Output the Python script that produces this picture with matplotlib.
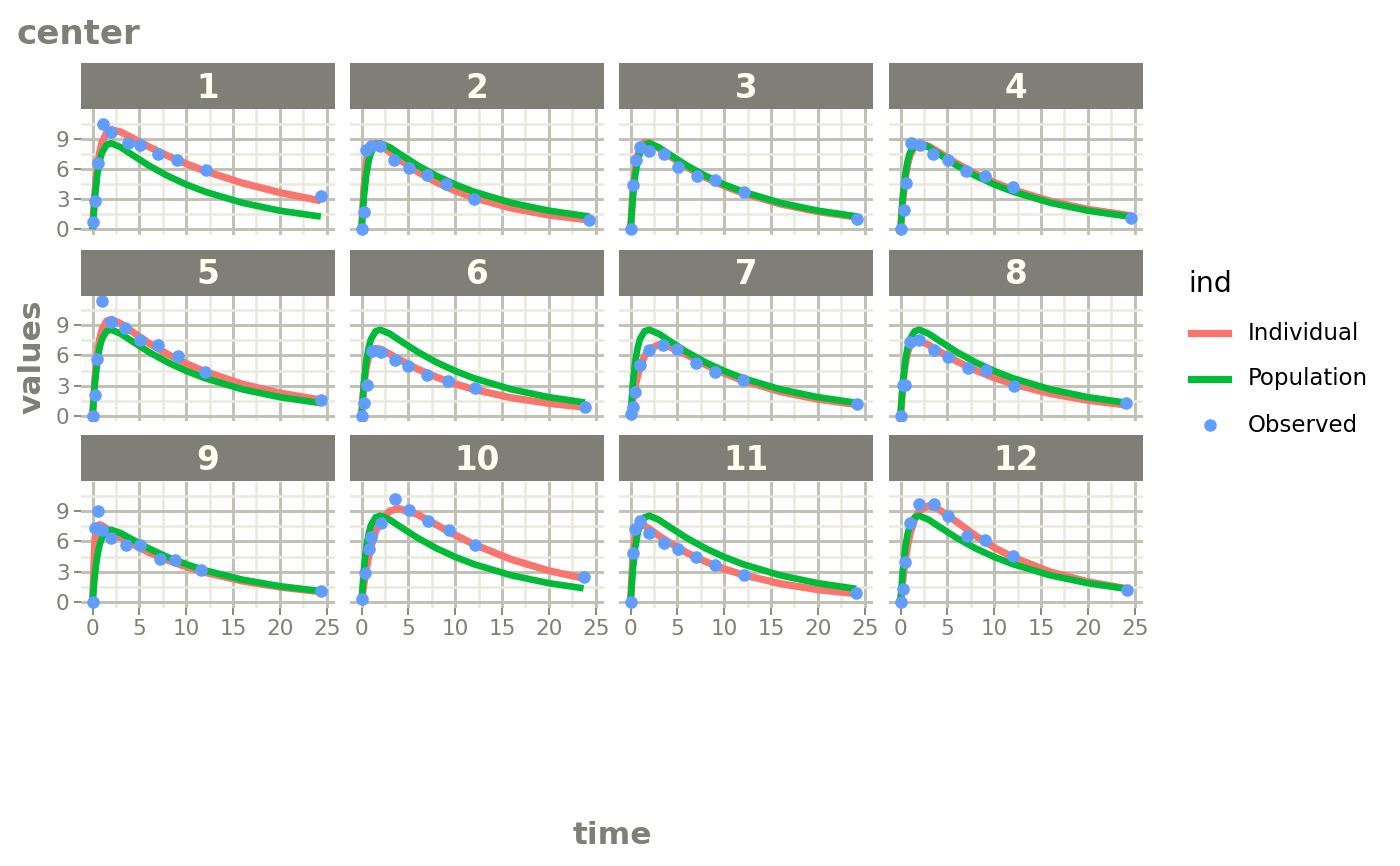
import matplotlib
matplotlib.use("Agg")
import matplotlib.pyplot as plt
from matplotlib.lines import Line2D

# ---------------- data ----------------
subjects = ["1", "2", "3", "4", "5", "6", "7", "8", "9", "10", "11", "12"]

obs_time = {
    "1": [0, 0.25, 0.57, 1.12, 2.02, 3.82, 5.10, 7.03, 9.05, 12.12, 24.37],
    "2": [0, 0.27, 0.52, 1.00, 1.92, 3.50, 5.02, 7.03, 9.00, 12.00, 24.30],
    "3": [0, 0.27, 0.58, 1.02, 2.02, 3.62, 5.08, 7.07, 9.00, 12.15, 24.17],
    "4": [0, 0.35, 0.60, 1.07, 2.13, 3.50, 5.02, 7.02, 9.02, 11.98, 24.65],
    "5": [0, 0.30, 0.52, 1.00, 2.02, 3.50, 5.02, 7.02, 9.10, 12.00, 24.35],
    "6": [0, 0.27, 0.58, 1.15, 2.03, 3.57, 5.00, 7.00, 9.22, 12.10, 23.85],
    "7": [0, 0.25, 0.50, 1.02, 2.02, 3.48, 5.00, 6.98, 9.00, 12.05, 24.22],
    "8": [0, 0.25, 0.52, 0.98, 2.02, 3.53, 5.05, 7.15, 9.07, 12.10, 24.12],
    "9": [0, 0.30, 0.63, 1.05, 2.02, 3.53, 5.02, 7.17, 8.80, 11.60, 24.43],
    "10": [0, 0.37, 0.77, 1.02, 2.05, 3.55, 5.05, 7.08, 9.38, 12.10, 23.70],
    "11": [0, 0.25, 0.50, 0.98, 1.98, 3.60, 5.02, 7.03, 9.03, 12.12, 24.08],
    "12": [0, 0.25, 0.50, 1.00, 2.00, 3.52, 5.07, 7.07, 9.03, 12.05, 24.15],
}
obs_conc = {
    "1": [0.74, 2.84, 6.57, 10.50, 9.66, 8.58, 8.36, 7.47, 6.89, 5.94, 3.28],
    "2": [0.00, 1.72, 7.91, 8.31, 8.33, 6.85, 6.08, 5.40, 4.55, 3.01, 0.90],
    "3": [0.00, 4.40, 6.90, 8.20, 7.80, 7.50, 6.20, 5.30, 4.90, 3.70, 1.05],
    "4": [0.00, 1.89, 4.60, 8.60, 8.38, 7.54, 6.88, 5.78, 5.33, 4.19, 1.15],
    "5": [0.00, 2.02, 5.63, 11.40, 9.33, 8.74, 7.56, 7.09, 5.90, 4.37, 1.57],
    "6": [0.00, 1.29, 3.08, 6.44, 6.32, 5.53, 4.94, 4.02, 3.46, 2.78, 0.92],
    "7": [0.15, 0.85, 2.35, 5.02, 6.58, 7.09, 6.66, 5.25, 4.39, 3.53, 1.15],
    "8": [0.00, 3.05, 3.05, 7.31, 7.56, 6.59, 5.88, 4.73, 4.57, 3.00, 1.25],
    "9": [0.00, 7.37, 9.03, 7.14, 6.33, 5.66, 5.67, 4.24, 4.11, 3.16, 1.12],
    "10": [0.24, 2.89, 5.22, 6.41, 7.83, 10.21, 9.18, 8.02, 7.14, 5.68, 2.42],
    "11": [0.00, 4.86, 7.24, 8.00, 6.81, 5.87, 5.22, 4.45, 3.62, 2.69, 0.86],
    "12": [0.00, 1.25, 3.96, 7.82, 9.72, 9.75, 8.57, 6.59, 6.11, 4.57, 1.17],
}

# prediction curves: read at these times, plus each subject's last time
curve_time = [0, 0.25, 0.5, 0.75, 1, 1.5, 2, 3, 4, 6, 8, 10, 12, 16, 20]
curve_end = {"1": 24.37, "2": 24.30, "3": 24.17, "4": 24.65, "5": 24.35, "6": 23.85,
             "7": 24.22, "8": 24.12, "9": 24.43, "10": 23.70, "11": 24.08, "12": 24.15}

ind_pred = {
    "1": [0, 3.67, 6.08, 7.64, 8.63, 9.61, 9.89, 9.69, 9.21, 8.22, 7.32, 6.52, 5.80, 4.60, 3.65, 2.83],
    "2": [0, 4.14, 6.43, 7.65, 8.26, 8.57, 8.39, 7.69, 6.97, 5.71, 4.67, 3.83, 3.13, 2.10, 1.41, 0.92],
    "3": [0, 3.77, 6.03, 7.36, 8.10, 8.65, 8.62, 8.06, 7.39, 6.18, 5.16, 4.31, 3.60, 2.51, 1.75, 1.20],
    "4": [0, 2.99, 5.03, 6.41, 7.32, 8.26, 8.53, 8.28, 7.72, 6.55, 5.52, 4.66, 3.93, 2.80, 1.99, 1.34],
    "5": [0, 3.68, 6.07, 7.60, 8.55, 9.43, 9.59, 9.18, 8.52, 7.23, 6.13, 5.19, 4.39, 3.15, 2.26, 1.58],
    "6": [0, 3.03, 4.80, 5.81, 6.35, 6.70, 6.63, 6.15, 5.61, 4.64, 3.84, 3.17, 2.62, 1.79, 1.23, 0.85],
    "7": [0, 1.62, 2.92, 3.96, 4.79, 5.94, 6.61, 7.08, 6.94, 6.07, 5.09, 4.23, 3.50, 2.39, 1.64, 1.10],
    "8": [0, 3.16, 5.11, 6.28, 6.96, 7.50, 7.51, 7.06, 6.48, 5.42, 4.53, 3.78, 3.16, 2.20, 1.54, 1.06],
    "9": [0, 6.27, 7.53, 7.68, 7.59, 7.28, 6.97, 6.39, 5.86, 4.92, 4.14, 3.48, 2.92, 2.06, 1.46, 0.99],
    "10": [0, 1.73, 3.19, 4.41, 5.43, 6.97, 8.00, 9.04, 9.27, 8.68, 7.66, 6.64, 5.71, 4.21, 3.09, 2.33],
    "11": [0, 4.48, 6.48, 7.32, 7.61, 7.56, 7.26, 6.59, 5.97, 4.88, 4.00, 3.27, 2.68, 1.80, 1.20, 0.80],
    "12": [0, 2.30, 4.13, 5.57, 6.70, 8.22, 9.07, 9.56, 9.25, 7.95, 6.58, 5.40, 4.43, 2.97, 1.99, 1.31],
}
pop_pred = {
    "1": [0, 3.26, 5.39, 6.76, 7.62, 8.41, 8.56, 8.17, 7.55, 6.35, 5.32, 4.46, 3.74, 2.63, 1.85, 1.26],
    "2": [0, 3.26, 5.39, 6.76, 7.62, 8.41, 8.56, 8.17, 7.55, 6.35, 5.32, 4.46, 3.74, 2.63, 1.85, 1.27],
    "3": [0, 3.26, 5.39, 6.76, 7.62, 8.41, 8.56, 8.17, 7.55, 6.35, 5.32, 4.46, 3.74, 2.63, 1.85, 1.28],
    "4": [0, 3.26, 5.39, 6.76, 7.62, 8.41, 8.56, 8.17, 7.55, 6.35, 5.32, 4.46, 3.74, 2.63, 1.85, 1.23],
    "5": [0, 3.26, 5.39, 6.76, 7.62, 8.41, 8.56, 8.17, 7.55, 6.35, 5.32, 4.46, 3.74, 2.63, 1.85, 1.26],
    "6": [0, 3.26, 5.39, 6.76, 7.62, 8.41, 8.56, 8.17, 7.55, 6.35, 5.32, 4.46, 3.74, 2.63, 1.85, 1.32],
    "7": [0, 3.26, 5.39, 6.76, 7.62, 8.41, 8.56, 8.17, 7.55, 6.35, 5.32, 4.46, 3.74, 2.63, 1.85, 1.28],
    "8": [0, 3.26, 5.39, 6.76, 7.62, 8.41, 8.56, 8.17, 7.55, 6.35, 5.32, 4.46, 3.74, 2.63, 1.85, 1.29],
    "9": [0, 2.73, 4.51, 5.66, 6.37, 7.04, 7.16, 6.84, 6.32, 5.31, 4.45, 3.74, 3.13, 2.20, 1.55, 1.05],
    "10": [0, 3.26, 5.39, 6.76, 7.62, 8.41, 8.56, 8.17, 7.55, 6.35, 5.32, 4.46, 3.74, 2.63, 1.85, 1.34],
    "11": [0, 3.26, 5.39, 6.76, 7.62, 8.41, 8.56, 8.17, 7.55, 6.35, 5.32, 4.46, 3.74, 2.63, 1.85, 1.29],
    "12": [0, 3.26, 5.39, 6.76, 7.62, 8.41, 8.56, 8.17, 7.55, 6.35, 5.32, 4.46, 3.74, 2.63, 1.85, 1.28],
}

x_ticks = [0, 5, 10, 15, 20, 25]
x_minor = [2.5, 7.5, 12.5, 17.5, 22.5]
y_ticks = [0, 3, 6, 9]
y_minor = [1.5, 4.5, 7.5, 10.5]
legend_labels = ["Individual", "Population", "Observed"]

# ---------------- style ----------------
RED, GREEN, BLUE = "#F8766D", "#00BA38", "#619CFF"
GREY_TXT = "#7F7F77"
STRIP = "#7F7F77"
MAJOR = "#C0C0B3"
MINOR = "#E9E9DC"

W, H = 1400, 866
fig = plt.figure(figsize=(W / 100, H / 100), dpi=100)
fig.patch.set_facecolor("white")

def fx(p):
    return p / W

def fy(p):
    return 1 - p / H

col_left = [81, 350, 619, 889]
row_top = [109, 295.5, 481.5]
pw, ph, sh = 254, 126, 46

tmax_all = max(max(v) for v in obs_time.values())
cmax_all = max(max(v) for v in obs_conc.values())
xlim = (-0.05 * tmax_all, tmax_all * 1.05)
ylim = (-0.05 * cmax_all, cmax_all * 1.05)

for i, s in enumerate(subjects):
    r, c = divmod(i, 4)
    ax = fig.add_axes([fx(col_left[c]), fy(row_top[r] + ph), pw / W, ph / H])
    ax.set_facecolor("white")
    for sp in ax.spines.values():
        sp.set_visible(False)
    ax.set_xlim(*xlim)
    ax.set_ylim(*ylim)
    ax.set_xticks(x_ticks)
    ax.set_xticks(x_minor, minor=True)
    ax.set_yticks(y_ticks)
    ax.set_yticks(y_minor, minor=True)
    ax.set_axisbelow(True)
    ax.grid(which="minor", color=MINOR, lw=1.8)
    ax.grid(which="major", color=MAJOR, lw=2.1)
    ax.tick_params(which="minor", length=0)
    ax.tick_params(which="major", length=5, width=1.3, color=GREY_TXT,
                   labelcolor=GREY_TXT, labelsize=15.5, pad=3.2)
    ax.tick_params(axis="y", left=(c == 0), labelleft=(c == 0))
    ax.tick_params(axis="x", bottom=(r == 2), labelbottom=(r == 2))

    xt = curve_time + [curve_end[s]]
    ax.plot(xt, ind_pred[s], color=RED, lw=5.2, zorder=3, solid_capstyle="butt")
    ax.plot(xt, pop_pred[s], color=GREEN, lw=4.8, zorder=4, solid_capstyle="butt")
    ax.scatter(obs_time[s], obs_conc[s], s=82, color=BLUE, linewidths=0, zorder=5)

    sax = fig.add_axes([fx(col_left[c]), fy(row_top[r]), pw / W, sh / H])
    sax.set_facecolor(STRIP)
    sax.set_xticks([])
    sax.set_yticks([])
    for sp in sax.spines.values():
        sp.set_visible(False)
    sax.text(0.5, 0.45, s, ha="center", va="center", color="#FFFFF4",
             fontsize=23.5, fontweight="bold", transform=sax.transAxes)

# titles
fig.text(fx(16), fy(34), "center", ha="left", va="center", fontsize=24.5,
         fontweight="bold", color=GREY_TXT)
fig.text(fx(612), fy(836), "time", ha="center", va="center", fontsize=22.5,
         fontweight="bold", color=GREY_TXT)
fig.text(fx(32), fy(357), "values", ha="center", va="center", rotation=90,
         fontsize=22.5, fontweight="bold", color=GREY_TXT)

# legend
fig.text(fx(1188), fy(284), "ind", ha="left", va="center", fontsize=20.5, color="black")
key_y = [333, 379, 425]
fig.add_artist(Line2D([fx(1191), fx(1228)], [fy(key_y[0])] * 2, color=RED, lw=5.2,
                      transform=fig.transFigure))
fig.add_artist(Line2D([fx(1191), fx(1228)], [fy(key_y[1])] * 2, color=GREEN, lw=5.2,
                      transform=fig.transFigure))
fig.add_artist(Line2D([fx(1210)], [fy(key_y[2])], marker="o", markersize=9, color=BLUE,
                      markeredgewidth=0, linestyle="none", transform=fig.transFigure))
for lab, yy in zip(legend_labels, key_y):
    fig.text(fx(1248), fy(yy), lab, ha="left", va="center", fontsize=16.5, color="black")

fig.savefig("out.png", dpi=100, facecolor="white")
